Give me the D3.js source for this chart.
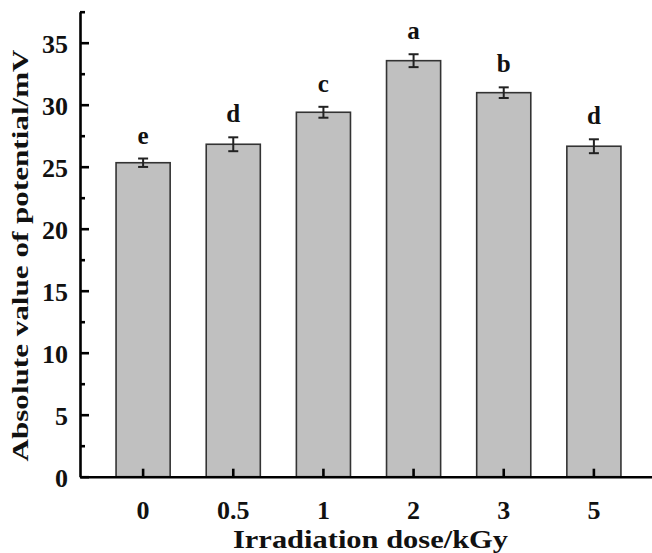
<!DOCTYPE html>
<html>
<head>
<meta charset="utf-8">
<script src="https://cdn.jsdelivr.net/npm/d3@7"></script>
<style>
  body { margin: 0; background: #fff; }
  text { font-family: "Liberation Serif", "Times New Roman", serif; font-weight: bold; }
</style>
</head>
<body>
<script>
const doses = ["0", "0.5", "1", "2", "3", "5"];
const potential = [25.32, 26.81, 29.39, 33.55, 30.97, 26.65];
const errors = [0.34, 0.56, 0.44, 0.52, 0.43, 0.56];
const letters = ["e", "d", "c", "a", "b", "d"];
const yTicks = [0, 5, 10, 15, 20, 25, 30, 35];
const yMinor = [2.5, 7.5, 12.5, 17.5, 22.5, 27.5, 32.5, 37.5];

const W = 652, H = 553;
const svg = d3.select("body").append("svg")
  .attr("width", W)
  .attr("height", H);

const x = d3.scaleBand()
  .domain(doses)
  .range([80, 657])
  .padding(0.4);

const y = d3.scaleLinear()
  .domain([0, 37.5])
  .range([476.7, 11.7]);

const data = doses.map((d, i) => ({ dose: d, v: potential[i], e: errors[i], l: letters[i] }));

// bars
svg.append("g").selectAll("rect")
  .data(data)
  .join("rect")
  .attr("x", d => x(d.dose))
  .attr("y", d => y(d.v))
  .attr("width", x.bandwidth())
  .attr("height", d => y(0) - y(d.v))
  .attr("fill", "#c0c0c0")
  .attr("stroke", "#333")
  .attr("stroke-width", 1.6);

// error bars
const eb = svg.append("g")
  .attr("stroke", "#222")
  .attr("stroke-width", 2);
data.forEach(d => {
  const cx = x(d.dose) + x.bandwidth() / 2;
  eb.append("line").attr("x1", cx).attr("x2", cx).attr("y1", y(d.v + d.e)).attr("y2", y(d.v - d.e));
  eb.append("line").attr("x1", cx - 5).attr("x2", cx + 5).attr("y1", y(d.v + d.e)).attr("y2", y(d.v + d.e));
  eb.append("line").attr("x1", cx - 5).attr("x2", cx + 5).attr("y1", y(d.v - d.e)).attr("y2", y(d.v - d.e));
});

// significance letters
svg.append("g").selectAll("text")
  .data(data)
  .join("text")
  .attr("x", d => x(d.dose) + x.bandwidth() / 2)
  .attr("y", d => y(d.v + d.e) - 15)
  .attr("text-anchor", "middle")
  .attr("font-size", "25px")
  .attr("fill", "#111")
  .text(d => d.l);

// y axis
const yAxis = svg.append("g")
  .attr("transform", "translate(80,0)")
  .call(d3.axisLeft(y).tickValues(yTicks).tickSizeInner(-9).tickSizeOuter(0).tickPadding(12));
svg.append("g")
  .attr("transform", "translate(80,0)")
  .call(d3.axisLeft(y).tickValues(yMinor).tickSizeInner(-5).tickSizeOuter(0).tickFormat(""))
  .call(g => g.select(".domain").remove());

// x axis
const xAxis = svg.append("g")
  .attr("transform", `translate(0,${y(0)})`)
  .call(d3.axisBottom(x).tickSizeInner(-8).tickSizeOuter(0).tickPadding(24));

svg.selectAll(".domain, .tick line")
  .attr("stroke", "#000")
  .attr("stroke-width", 2.6);
svg.selectAll(".tick text")
  .attr("font-family", "Liberation Serif, Times New Roman, serif")
  .attr("font-weight", "bold")
  .attr("font-size", "26px")
  .attr("fill", "#111");
yAxis.selectAll(".tick text").attr("dy", "0.36em");

// axis titles
svg.append("text")
  .attr("x", 370.5)
  .attr("y", 548.3)
  .attr("text-anchor", "middle")
  .attr("font-size", "25px")
  .attr("fill", "#111")
  .attr("textLength", 275)
  .attr("lengthAdjust", "spacingAndGlyphs")
  .text("Irradiation dose/kGy");

svg.append("text")
  .attr("transform", "translate(28.3,255.5) rotate(-90)")
  .attr("text-anchor", "middle")
  .attr("font-size", "23px")
  .attr("fill", "#111")
  .attr("textLength", 412)
  .attr("lengthAdjust", "spacingAndGlyphs")
  .text("Absolute value of potential/mV");
</script>
</body>
</html>
